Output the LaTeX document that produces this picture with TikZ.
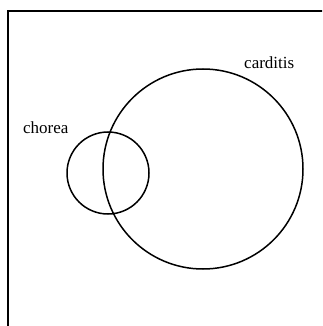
\documentclass[tikz,border=0pt]{standalone}
\usepackage{fontspec}
\setmainfont{Liberation Serif}
\begin{document}
\begin{tikzpicture}[x=1pt,y=-1pt,
  ring/.style={draw=black,line width=1.5pt},
  lbl/.style={font=\fontsize{17}{20}\selectfont,inner sep=0pt,text=black}]
\useasboundingbox (0,0) rectangle (322,326);
\clip (0,0) rectangle (322,326);
\draw[line width=2pt] (7.5,340) -- (7.5,11.5) -- (340,11.5);
\node[ring,circle,minimum size=82pt,inner sep=0pt] (chorea) at (108,173) {};
\node[ring,circle,minimum size=200pt,inner sep=0pt] (carditis) at (203,169) {};
\node[lbl,anchor=west] (lc) at (23,128) {chorea};
\node[lbl,anchor=west] (lk) at (244,63) {carditis};
\end{tikzpicture}
\end{document}
